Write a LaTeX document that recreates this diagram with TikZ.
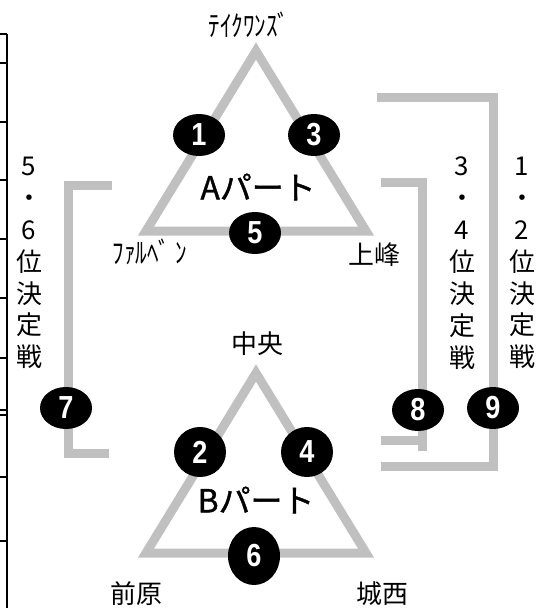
\documentclass[tikz,border=0pt]{standalone}
\usepackage{fontspec}
\setmainfont{Noto Sans CJK JP}
\newfontfamily\numfont{Liberation Sans}[FakeStretch=0.85]
\newfontfamily\hanfont{Noto Sans CJK JP}[FakeStretch=0.8]
\newfontfamily\partfont{Noto Sans CJK JP}[FakeBold=1.2]
\usetikzlibrary{shapes.geometric}
\definecolor{partgray}{HTML}{C0C0C0}
\tikzset{
  partline/.style={draw=partgray,line width=9bp,line join=miter},
  matchno/.style={ellipse,fill=black,text=white,inner sep=0bp,minimum width=52bp,minimum height=42bp,font=\numfont\bfseries\fontsize{32}{32}\selectfont},
  teamname/.style={inner sep=0bp,font=\fontsize{26}{26}\selectfont},
  hankaku/.style={inner sep=0bp,font=\hanfont\fontsize{29}{29}\selectfont},
  partname/.style={inner sep=0bp,font=\partfont\fontsize{32}{32}\selectfont},
  ranklabel/.style={inner sep=0bp,align=center,font=\fontsize{26}{32}\selectfont},
}
\begin{document}
\begin{tikzpicture}[yscale=-1]
\useasboundingbox (0bp,0bp) rectangle (549bp,608bp);
%% table edge
\draw [line width=2bp] (7bp,34bp) -- (7bp,608bp);
\foreach \y in {34,63,122,180,239,298,358,410,415,477,541}
  \draw [line width=2bp] (0bp,\y bp) -- (7bp,\y bp);
%% A part
\coordinate (a_top) at (256bp,51bp);
\coordinate (a_left) at (146bp,231bp);
\coordinate (a_right) at (366bp,231bp);
\draw [partline] (a_top) -- (a_left) -- (a_right) -- cycle;
%% B part
\coordinate (b_top) at (256bp,373bp);
\coordinate (b_left) at (146bp,553bp);
\coordinate (b_right) at (366bp,553bp);
\draw [partline] (b_top) -- (b_left) -- (b_right) -- cycle;
%% 5-6
\coordinate (r56_a) at (112bp,185bp);
\coordinate (r56_b) at (68bp,185bp);
\coordinate (r56_c) at (68bp,453bp);
\coordinate (r56_d) at (109bp,453bp);
\draw [partline] (r56_a) -- (r56_b) -- (r56_c) -- (r56_d);
%% 3-4
\coordinate (r34_a) at (381bp,182bp);
\coordinate (r34_b) at (422bp,182bp);
\coordinate (r34_c) at (422bp,451bp);
\coordinate (r34_d) at (381bp,440bp);
\coordinate (r34_e) at (422bp,440bp);
\draw [partline] (r34_a) -- (r34_b) -- (r34_c);
\draw [partline] (r34_d) -- (r34_e);
%% 1-2
\coordinate (r12_a) at (377bp,97bp);
\coordinate (r12_b) at (493bp,97bp);
\coordinate (r12_c) at (493bp,466bp);
\coordinate (r12_d) at (381bp,466bp);
\draw [partline] (r12_a) -- (r12_b) -- (r12_c) -- (r12_d);
%% matches
\node (match_1) at (199bp,135bp) [matchno] {1};
\node (match_3) at (314bp,135bp) [matchno] {3};
\node (match_5) at (255bp,233bp) [matchno] {5};
\node (match_2) at (200bp,452bp) [matchno,minimum height=50bp] {2};
\node (match_4) at (307bp,452bp) [matchno,minimum height=50bp] {4};
\node (match_6) at (254bp,556bp) [matchno,minimum height=58bp] {6};
\node (match_7) at (66bp,408bp) [matchno] {7};
\node (match_8) at (418bp,410bp) [matchno] {8};
\node (match_9) at (493bp,408bp) [matchno] {9};
%% teams
\node (team_tk) at (249bp,25bp) [hankaku] {ﾃｲｸﾜﾝｽﾞ};
\node (team_fb) at (150bp,252bp) [hankaku] {ﾌｧﾙﾍﾞ ﾝ};
\node (team_km) at (374bp,255bp) [teamname] {上峰};
\node (team_cy) at (257bp,344bp) [teamname] {中央};
\node (team_mb) at (136bp,594bp) [teamname] {前原};
\node (team_jn) at (382bp,594bp) [teamname] {城西};
\node (part_a) at (258bp,187bp) [partname] {Aパート};
\node (part_b) at (256bp,500bp) [partname] {Bパート};
%% ranks
\node (rank_56) at (29bp,263bp) [ranklabel] {5\\・\\6\\位\\決\\定\\戦};
\node (rank_34) at (462bp,263bp) [ranklabel] {3\\・\\4\\位\\決\\定\\戦};
\node (rank_12) at (522bp,263bp) [ranklabel] {1\\・\\2\\位\\決\\定\\戦};
%
\end{tikzpicture}
\end{document}
